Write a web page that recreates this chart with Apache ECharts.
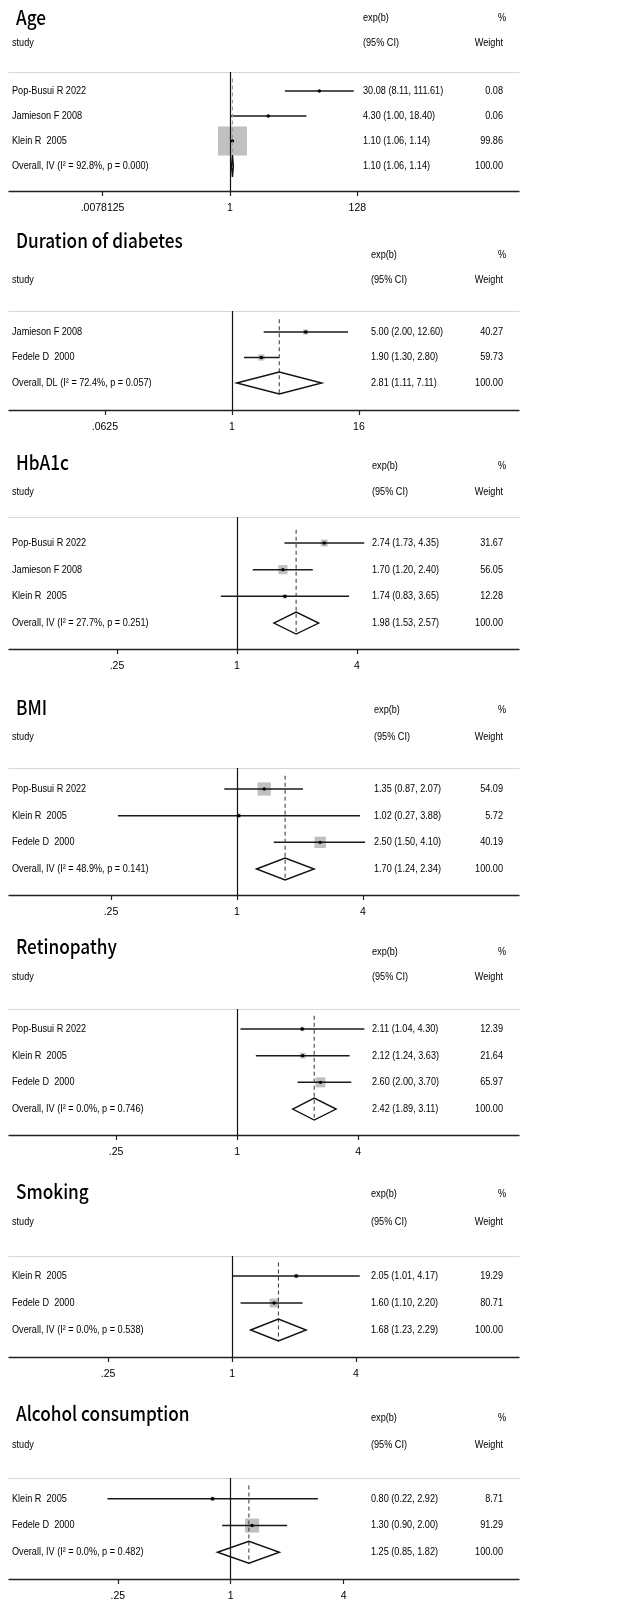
<!DOCTYPE html>
<html>
<head>
<meta charset="utf-8">
<script src="https://cdn.jsdelivr.net/npm/echarts@6/dist/echarts.min.js"></script>
<style>
  html, body { margin: 0; padding: 0; background: #fff; }
  #chart { width: 622px; height: 1602px; }
</style>
</head>
<body>
<div id="chart"></div>
<script>
// ---- Age ----
const ageStudies = ['Pop-Busui R 2022', 'Jamieson F 2008', 'Klein R  2005'];
const ageEst = [30.08, 4.30, 1.10];
const ageLo = [8.11, 1.00, 1.06];
const ageHi = [111.61, 18.40, 1.14];
const ageWeight = [0.08, 0.06, 99.86];
const ageOverall = ['Overall, IV (I² = 92.8%, p = 0.000)', 1.10, 1.06, 1.14, 100.00];
const ageTicks = [0.0078125, 1, 128];

// ---- Duration of diabetes ----
const durStudies = ['Jamieson F 2008', 'Fedele D  2000'];
const durEst = [5.00, 1.90];
const durLo = [2.00, 1.30];
const durHi = [12.60, 2.80];
const durWeight = [40.27, 59.73];
const durOverall = ['Overall, DL (I² = 72.4%, p = 0.057)', 2.81, 1.11, 7.11, 100.00];
const durTicks = [0.0625, 1, 16];

// ---- HbA1c ----
const hbaStudies = ['Pop-Busui R 2022', 'Jamieson F 2008', 'Klein R  2005'];
const hbaEst = [2.74, 1.70, 1.74];
const hbaLo = [1.73, 1.20, 0.83];
const hbaHi = [4.35, 2.40, 3.65];
const hbaWeight = [31.67, 56.05, 12.28];
const hbaOverall = ['Overall, IV (I² = 27.7%, p = 0.251)', 1.98, 1.53, 2.57, 100.00];
const hbaTicks = [0.25, 1, 4];

// ---- BMI ----
const bmiStudies = ['Pop-Busui R 2022', 'Klein R  2005', 'Fedele D  2000'];
const bmiEst = [1.35, 1.02, 2.50];
const bmiLo = [0.87, 0.27, 1.50];
const bmiHi = [2.07, 3.88, 4.10];
const bmiWeight = [54.09, 5.72, 40.19];
const bmiOverall = ['Overall, IV (I² = 48.9%, p = 0.141)', 1.70, 1.24, 2.34, 100.00];
const bmiTicks = [0.25, 1, 4];

// ---- Retinopathy ----
const retStudies = ['Pop-Busui R 2022', 'Klein R  2005', 'Fedele D  2000'];
const retEst = [2.11, 2.12, 2.60];
const retLo = [1.04, 1.24, 2.00];
const retHi = [4.30, 3.63, 3.70];
const retWeight = [12.39, 21.64, 65.97];
const retOverall = ['Overall, IV (I² = 0.0%, p = 0.746)', 2.42, 1.89, 3.11, 100.00];
const retTicks = [0.25, 1, 4];

// ---- Smoking ----
const smkStudies = ['Klein R  2005', 'Fedele D  2000'];
const smkEst = [2.05, 1.60];
const smkLo = [1.01, 1.10];
const smkHi = [4.17, 2.20];
const smkWeight = [19.29, 80.71];
const smkOverall = ['Overall, IV (I² = 0.0%, p = 0.538)', 1.68, 1.23, 2.29, 100.00];
const smkTicks = [0.25, 1, 4];

// ---- Alcohol consumption ----
const alcStudies = ['Klein R  2005', 'Fedele D  2000'];
const alcEst = [0.80, 1.30];
const alcLo = [0.22, 0.90];
const alcHi = [2.92, 2.00];
const alcWeight = [8.71, 91.29];
const alcOverall = ['Overall, IV (I² = 0.0%, p = 0.482)', 1.25, 0.85, 1.82, 100.00];
const alcTicks = [0.25, 1, 4];

// Panel layout (pixels): title centre, header rows, rule line, first row, row step,
// axis line; x range of each log2 axis in doublings; box scale per sqrt(weight %).
const panels = [
  { title: 'Age', studies: ageStudies, est: ageEst, lo: ageLo, hi: ageHi, w: ageWeight, overall: ageOverall, ticks: ageTicks,
    titleY: 17.5, h1: 18, h2: 43, rule: 72, row0: 91, step: 25, axisY: 191, xExp: [-12.14, 15.88], estX: 363, box: 2.9, dash: '#9a9a9a' },
  { title: 'Duration of diabetes', studies: durStudies, est: durEst, lo: durLo, hi: durHi, w: durWeight, overall: durOverall, ticks: durTicks,
    titleY: 240, h1: 255, h2: 280, rule: 311, row0: 332, step: 25.5, axisY: 410, xExp: [-7.02, 9.04], estX: 371, box: 0.8, dash: '#444' },
  { title: 'HbA1c', studies: hbaStudies, est: hbaEst, lo: hbaLo, hi: hbaHi, w: hbaWeight, overall: hbaOverall, ticks: hbaTicks,
    titleY: 462, h1: 466, h2: 492, rule: 517, row0: 543, step: 26.67, axisY: 649, xExp: [-3.8, 4.7], estX: 372, box: 1.22, dash: '#444' },
  { title: 'BMI', studies: bmiStudies, est: bmiEst, lo: bmiLo, hi: bmiHi, w: bmiWeight, overall: bmiOverall, ticks: bmiTicks,
    titleY: 707, h1: 710, h2: 737, rule: 768, row0: 789, step: 26.67, axisY: 895, xExp: [-3.62, 4.48], estX: 374, box: 1.8, dash: '#444' },
  { title: 'Retinopathy', studies: retStudies, est: retEst, lo: retLo, hi: retHi, w: retWeight, overall: retOverall, ticks: retTicks,
    titleY: 946, h1: 952, h2: 977, rule: 1009, row0: 1029, step: 26.67, axisY: 1135, xExp: [-3.77, 4.66], estX: 372, box: 1.23, dash: '#444' },
  { title: 'Smoking', studies: smkStudies, est: smkEst, lo: smkLo, hi: smkHi, w: smkWeight, overall: smkOverall, ticks: smkTicks,
    titleY: 1191, h1: 1194, h2: 1222, rule: 1256, row0: 1276, step: 27, axisY: 1357, xExp: [-3.6, 4.63], estX: 371, box: 1.0, dash: '#444' },
  { title: 'Alcohol consumption', studies: alcStudies, est: alcEst, lo: alcLo, hi: alcHi, w: alcWeight, overall: alcOverall, ticks: alcTicks,
    titleY: 1413, h1: 1418, h2: 1445, rule: 1478, row0: 1499, step: 27, axisY: 1580, xExp: [-3.93, 5.11], estX: 371, box: 1.47, dash: '#444' }
];

const BODY_FONT = '"Liberation Sans", Arial, sans-serif';
const TITLE_FONT = '"Noto Sans CJK SC", "Noto Sans", sans-serif';
const BODY_SIZE = 10.5;
const BODY_SX = 0.87;      // narrow set of the table text
const TITLE_SX = 0.86;
const PLOT_LEFT = 9, PLOT_RIGHT = 519, CHART_W = 622;
const COL_STUDY = 12, COL_WEIGHT = 503, COL_PCT = 506;
const DIAMOND_HALF = 11;

const fmt2 = v => v.toFixed(2);
const ciText = (e, l, h) => fmt2(e) + ' (' + fmt2(l) + ', ' + fmt2(h) + ')';
const tickText = v => (v < 1 ? String(v).replace(/^0/, '') : String(v));

function bodyText(text, x, y, align) {
  return {
    type: 'text', x: x, y: y, scaleX: BODY_SX,
    style: {
      text: text, x: 0, y: 0, fill: '#000',
      font: BODY_SIZE + 'px ' + BODY_FONT,
      textAlign: align, align: align,
      textVerticalAlign: 'middle', verticalAlign: 'middle'
    }
  };
}

const grids = [], xAxes = [], yAxes = [], series = [], graphics = [];

panels.forEach((p, gi) => {
  const n = p.studies.length;
  const yMin = -(p.row0 - p.rule) / p.step;
  const yMax = n + (p.axisY - (p.row0 + n * p.step)) / p.step;

  grids.push({ left: PLOT_LEFT, right: CHART_W - PLOT_RIGHT, top: p.rule, height: p.axisY - p.rule });

  // log-scaled effect axis at the bottom of the panel
  xAxes.push({
    type: 'log', logBase: 2, gridIndex: gi, position: 'bottom',
    min: Math.pow(2, p.xExp[0]), max: Math.pow(2, p.xExp[1]),
    axisLine: { show: true, onZero: false, lineStyle: { color: '#222', width: 1.4 } },
    axisTick: { show: true, inside: false, length: 5, customValues: p.ticks, lineStyle: { color: '#222', width: 1.2 } },
    axisLabel: { show: true, customValues: p.ticks, margin: 12, formatter: tickText,
      fontSize: BODY_SIZE, fontFamily: BODY_FONT, color: '#000' },
    splitLine: { show: false }
  });
  // light rule under the column headers
  xAxes.push({
    type: 'value', gridIndex: gi, position: 'top', min: 0, max: 1,
    axisLine: { show: true, onZero: false, lineStyle: { color: '#d6d6d6', width: 1.2 } },
    axisTick: { show: false }, axisLabel: { show: false }, splitLine: { show: false }
  });
  yAxes.push({ type: 'value', gridIndex: gi, inverse: true, min: yMin, max: yMax, show: false });

  const data = p.studies.map((s, i) => [i, p.est[i], p.lo[i], p.hi[i], p.w[i], 0]);
  data.push([n, p.overall[1], p.overall[2], p.overall[3], p.overall[4], 1]);

  series.push({
    type: 'custom', xAxisIndex: gi * 2, yAxisIndex: gi, silent: true, data: data,
    renderItem: function (params, api) {
      const row = api.value(0), est = api.value(1), lo = api.value(2), hi = api.value(3), w = api.value(4);
      const isOverall = api.value(5) === 1;
      const c = api.coord([est, row]);
      const l = api.coord([lo, row]);
      const h = api.coord([hi, row]);
      const kids = [];
      if (isOverall) {
        const top = api.coord([est, -0.5]);
        const bot = api.coord([est, row + 0.42]);
        kids.push({ type: 'line', shape: { x1: c[0], y1: top[1], x2: c[0], y2: bot[1] },
          style: { stroke: p.dash, lineWidth: 1.1, lineDash: [4, 3] } });
        kids.push({ type: 'polygon',
          shape: { points: [[l[0], c[1]], [c[0], c[1] - DIAMOND_HALF], [h[0], c[1]], [c[0], c[1] + DIAMOND_HALF]] },
          style: { fill: 'none', stroke: '#111', lineWidth: 1.4 } });
      } else {
        const side = p.box * Math.sqrt(w);
        kids.push({ type: 'rect', shape: { x: c[0] - side / 2, y: c[1] - side / 2, width: side, height: side },
          style: { fill: '#c0c0c0' } });
        kids.push({ type: 'line', shape: { x1: l[0], y1: c[1], x2: h[0], y2: c[1] },
          style: { stroke: '#1a1a1a', lineWidth: 1.5 } });
        kids.push({ type: 'circle', shape: { cx: c[0], cy: c[1], r: 1.7 }, style: { fill: '#000' } });
      }
      kids.push(bodyText(isOverall ? p.overall[0] : p.studies[row], COL_STUDY, c[1], 'left'));
      kids.push(bodyText(ciText(est, lo, hi), p.estX, c[1], 'left'));
      kids.push(bodyText(fmt2(w), COL_WEIGHT, c[1], 'right'));
      return { type: 'group', children: kids };
    },
    markLine: {
      silent: true, symbol: 'none', animation: false, label: { show: false },
      lineStyle: { color: '#111', width: 1.2, type: 'solid' },
      data: [{ xAxis: 1 }]
    }
  });

  // panel title and column headers
  graphics.push({ type: 'text', x: 16, y: p.titleY, scaleX: TITLE_SX,
    style: { text: p.title, x: 0, y: 0, font: '500 20px ' + TITLE_FONT, fill: '#000',
      textVerticalAlign: 'middle', verticalAlign: 'middle' } });
  graphics.push(bodyText('exp(b)', p.estX, p.h1, 'left'));
  graphics.push(bodyText('%', COL_PCT, p.h1, 'right'));
  graphics.push(bodyText('study', COL_STUDY, p.h2, 'left'));
  graphics.push(bodyText('(95% CI)', p.estX, p.h2, 'left'));
  graphics.push(bodyText('Weight', COL_WEIGHT, p.h2, 'right'));
});

const chart = echarts.init(document.getElementById('chart'), null, { renderer: 'canvas' });
chart.setOption({
  backgroundColor: '#fff',
  animation: false,
  grid: grids,
  xAxis: xAxes,
  yAxis: yAxes,
  series: series,
  graphic: { elements: graphics }
});
</script>
</body>
</html>
